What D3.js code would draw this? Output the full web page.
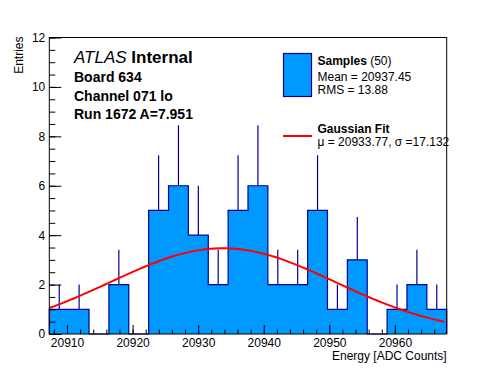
<!DOCTYPE html>
<html>
<head>
<meta charset="utf-8">
<script src="https://cdn.jsdelivr.net/npm/d3@7"></script>
<style>
  body { margin: 0; background: #fff; }
  svg text { font-family: "Liberation Sans", Arial, Helvetica, sans-serif; fill: #000; }
</style>
</head>
<body>
<div id="chart"></div>
<script>
// histogram contents (20 equal bins)
var binCounts = [1, 1, 0, 2, 0, 5, 6, 4, 2, 5, 6, 2, 2, 5, 1, 3, 0, 1, 2, 1];
var xRange = [20907.3, 20967.9];
var yRange = [0, 12];
var xTickLabels = [20910, 20920, 20930, 20940, 20950, 20960];
var yTickLabels = [0, 2, 4, 6, 8, 10, 12];
// gaussian fit: mu, sigma, amplitude
var fitParams = [20933.77, 17.132, 3.47];
var headerLines = ["Board 634", "Channel 071 lo", "Run 1672 A=7.951"];
var statsLines = ["Mean = 20937.45", "RMS = 13.88"];
var fitLine = "\u03bc = 20933.77, \u03c3 =17.132";
var nEntries = 50;

var W = 496, H = 372;
var plotL = 49.3, plotR = 446.7, plotT = 37.5, plotB = 334;
var fillCol = "#0099ff", lineCol = "#000099";

var svg = d3.select("#chart").append("svg")
            .attr("width", W)
            .attr("height", H);

var x = d3.scaleLinear().domain(xRange).range([plotL, plotR]);
var y = d3.scaleLinear().domain(yRange).range([plotB, plotT]);

var nb = binCounts.length;
var bw = (xRange[1] - xRange[0]) / nb;

// step outline points
var pts = [[xRange[0], 0]];
for (var i = 0; i < nb; i++) {
	var lo = xRange[0] + i*bw;
	pts.push([lo, binCounts[i]]);
	pts.push([lo + bw, binCounts[i]]);
}
pts.push([xRange[1], 0]);

var area = d3.area().x(function(d){ return x(d[0]); }).y0(y(0)).y1(function(d){ return y(d[1]); });
var line = d3.line().x(function(d){ return x(d[0]); }).y(function(d){ return y(d[1]); });

svg.append("path").attr("d", area(pts)).attr("fill", fillCol);
svg.append("path").attr("d", line(pts)).attr("fill", "none")
   .attr("stroke", lineCol).attr("stroke-width", 1.2);

// upper error bars
for (var i = 0; i < nb; i++) {
	if (binCounts[i] <= 0) continue;
	var xc = x(xRange[0] + (i + 0.5)*bw);
	svg.append("line")
	   .attr("x1", xc).attr("x2", xc)
	   .attr("y1", y(binCounts[i]))
	   .attr("y2", y(binCounts[i] + Math.sqrt(binCounts[i])))
	   .attr("stroke", lineCol).attr("stroke-width", 1.2);
}

// fit curve
var curve = [];
for (var k = 0; k <= 100; k++) {
	var xv = xRange[0] + (xRange[1] - 0.4 - xRange[0]) * k / 100;
	var z = (xv - fitParams[0]) / fitParams[1];
	curve.push([xv, fitParams[2] * Math.exp(-0.5*z*z)]);
}
svg.append("path").attr("d", line(curve)).attr("fill", "none")
   .attr("stroke", "#ff0000").attr("stroke-width", 2);

// axes, ticks pointing inwards
var minorX = d3.range(20908, xRange[1], 2);
var minorY = d3.range(0, 12.01, 0.5);

svg.append("g").attr("transform", "translate(0," + plotB + ")")
   .call(d3.axisBottom(x).tickValues(minorX).tickSizeInner(-4.5).tickSizeOuter(0).tickFormat(""));
svg.append("g").attr("class", "xax").attr("transform", "translate(0," + plotB + ")")
   .call(d3.axisBottom(x).tickValues(xTickLabels).tickSizeInner(-9).tickSizeOuter(0)
   .tickPadding(4).tickFormat(d3.format("d")));
svg.append("g").attr("transform", "translate(" + plotL + ",0)")
   .call(d3.axisLeft(y).tickValues(minorY).tickSizeInner(-6).tickSizeOuter(0).tickFormat(""));
svg.append("g").attr("class", "yax").attr("transform", "translate(" + plotL + ",0)")
   .call(d3.axisLeft(y).tickValues(yTickLabels).tickSizeInner(-12).tickSizeOuter(0)
   .tickPadding(4).tickFormat(d3.format("d")));

svg.selectAll(".domain").remove();
svg.selectAll(".tick line").attr("stroke", "#000");
svg.selectAll(".xax text, .yax text").style("font-size", "12px").attr("fill", "#000")
   .style("font-family", "'Liberation Sans', Arial, sans-serif");

// frame
svg.append("rect").attr("x", plotL).attr("y", plotT)
   .attr("width", plotR - plotL).attr("height", plotB - plotT)
   .attr("fill", "none").attr("stroke", "#000").attr("stroke-width", 1);

// axis titles
svg.append("text").attr("x", plotR).attr("y", 359.5)
   .attr("text-anchor", "end").style("font-size", "12px")
   .text("Energy [ADC Counts]");
svg.append("text").attr("transform", "translate(23," + (plotT - 1) + ") rotate(-90)")
   .attr("text-anchor", "end").style("font-size", "12px")
   .text("Entries");

// header
var t = svg.append("text").attr("x", 74).attr("y", 63).style("font-size", "17px");
t.append("tspan").style("font-style", "italic").text("ATLAS");
t.append("tspan").style("font-weight", "bold").text(" Internal");

headerLines.forEach(function(s, j){
	svg.append("text").attr("x", 74).attr("y", 82 + j*18.7)
	   .style("font-size", "14px").style("font-weight", "bold").text(s);
});

// legend
svg.append("rect").attr("x", 283.5).attr("y", 53.5).attr("width", 28).attr("height", 43)
   .attr("fill", fillCol).attr("stroke", lineCol).attr("stroke-width", 1.2);
var ls = svg.append("text").attr("x", 317.5).attr("y", 65).style("font-size", "12px");
ls.append("tspan").style("font-weight", "bold").text("Samples");
ls.append("tspan").text(" (" + nEntries + ")");
statsLines.forEach(function(s, j){
	svg.append("text").attr("x", 317.5).attr("y", 80.5 + j*13.3)
	   .style("font-size", "12px").text(s);
});

svg.append("line").attr("x1", 283).attr("x2", 312).attr("y1", 136).attr("y2", 136)
   .attr("stroke", "#ff0000").attr("stroke-width", 2);
svg.append("text").attr("x", 317.5).attr("y", 132.5)
   .style("font-size", "12px").style("font-weight", "bold").text("Gaussian Fit");
svg.append("text").attr("x", 317.5).attr("y", 145.5)
   .style("font-size", "12px").text(fitLine);
</script>
</body>
</html>
